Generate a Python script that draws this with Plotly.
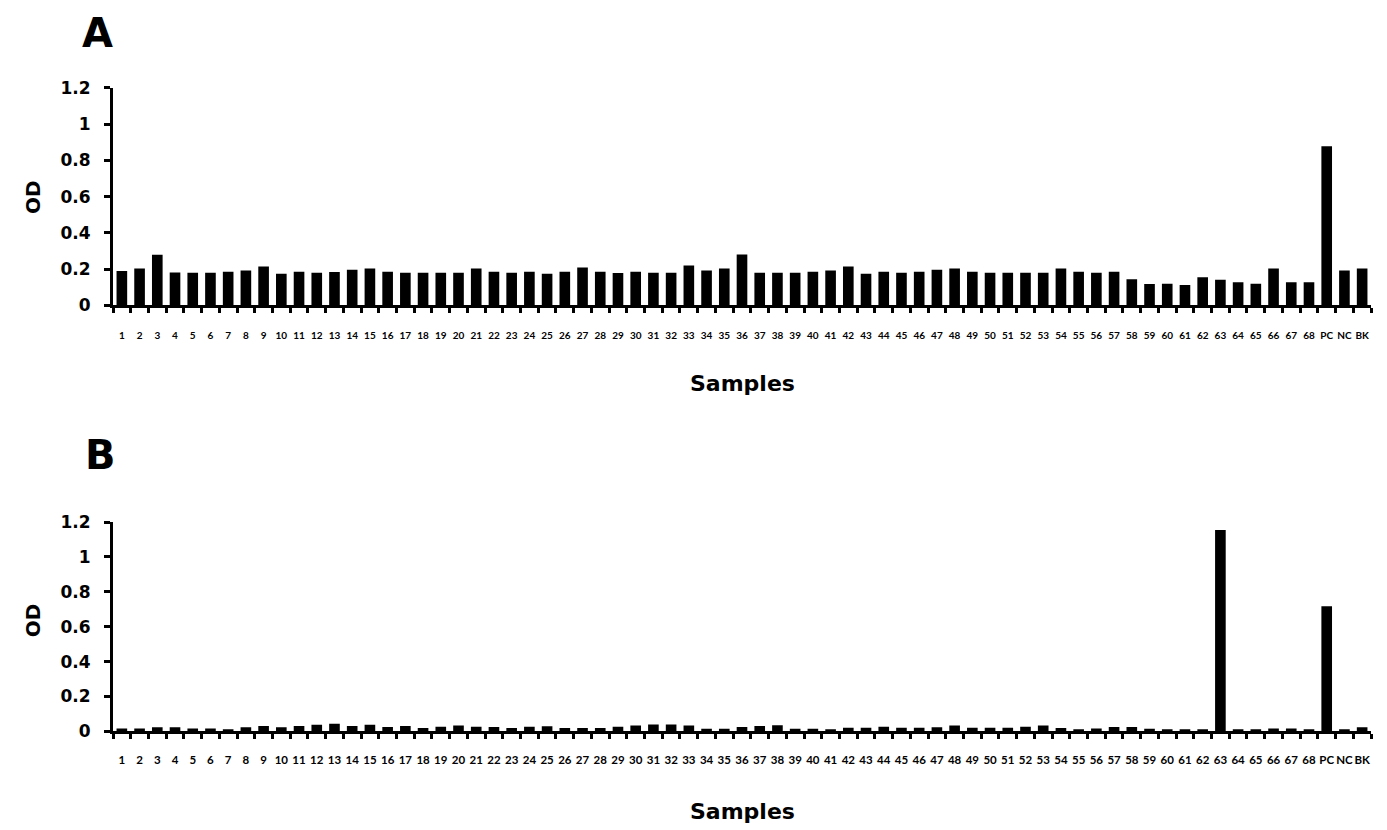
import plotly.graph_objects as go

categories = [str(i) for i in range(1, 69)] + ["PC", "NC", "BK"]

od_a = [0.19, 0.203, 0.279, 0.181, 0.18, 0.18, 0.186, 0.192, 0.214, 0.174,
        0.186, 0.18, 0.184, 0.197, 0.203, 0.186, 0.18, 0.18, 0.18, 0.18,
        0.203, 0.186, 0.18, 0.186, 0.174, 0.186, 0.209, 0.186, 0.179, 0.186,
        0.18, 0.18, 0.22, 0.192, 0.203, 0.281, 0.18, 0.18, 0.18, 0.186,
        0.192, 0.214, 0.174, 0.186, 0.18, 0.186, 0.197, 0.203, 0.186, 0.18,
        0.18, 0.18, 0.18, 0.203, 0.186, 0.18, 0.186, 0.144, 0.118, 0.12,
        0.113, 0.155, 0.142, 0.127, 0.12, 0.203, 0.127, 0.127,
        0.877, 0.192, 0.203]

od_b = [0.017, 0.017, 0.023, 0.023, 0.017, 0.017, 0.012, 0.023, 0.031, 0.023,
        0.031, 0.038, 0.044, 0.031, 0.038, 0.025, 0.031, 0.019, 0.027, 0.033,
        0.027, 0.025, 0.019, 0.027, 0.029, 0.019, 0.019, 0.019, 0.027, 0.033,
        0.04, 0.04, 0.033, 0.015, 0.015, 0.025, 0.031, 0.035, 0.015, 0.015,
        0.012, 0.021, 0.021, 0.027, 0.021, 0.021, 0.023, 0.033, 0.021, 0.021,
        0.021, 0.027, 0.033, 0.019, 0.012, 0.017, 0.025, 0.025, 0.015, 0.012,
        0.012, 0.012, 1.154, 0.012, 0.012, 0.017, 0.017, 0.012,
        0.717, 0.012, 0.023]

y_ticks = [0, 0.2, 0.4, 0.6, 0.8, 1.0, 1.2]
y_tick_text = ["0", "0.2", "0.4", "0.6", "0.8", "1", "1.2"]

W, H = 1387, 830
LABEL_FONT = "Lato"
MAIN_FONT = "DejaVu Sans"

def px_x(x):
    # figure x in pixels -> paper fraction
    return x / W

def px_y(y):
    # figure y in pixels (from top) -> paper fraction
    return 1 - y / H

fig = go.Figure()
fig.add_trace(go.Bar(x=categories, y=od_a, marker=dict(color="black", line=dict(width=0)),
                     xaxis="x", yaxis="y", showlegend=False))
fig.add_trace(go.Bar(x=categories, y=od_b, marker=dict(color="black", line=dict(width=0)),
                     xaxis="x2", yaxis="y2", showlegend=False))

def xaxis_cfg(anchor, size, standoff):
    return dict(
        domain=[px_x(105), px_x(1363)], anchor=anchor,
        type="category", tickmode="array", tickvals=categories, ticktext=categories,
        tickangle=0, tickson="boundaries", ticks="outside", ticklen=5, tickwidth=2.5,
        tickcolor="black", showline=True, linecolor="black", linewidth=3,
        showgrid=False, zeroline=False, ticklabelstandoff=standoff,
        tickfont=dict(family=LABEL_FONT, size=size, color="black", weight="bold"),
    )

def yaxis_cfg(anchor, top, bottom):
    return dict(
        domain=[px_y(bottom), px_y(top)], anchor=anchor, range=[0, 1.2],
        tickmode="array", tickvals=y_ticks, ticktext=y_tick_text,
        ticks="outside", ticklen=6, tickwidth=2.5, tickcolor="black",
        showline=True, linecolor="black", linewidth=3, showgrid=False, zeroline=False,
        ticklabelstandoff=10,
        tickfont=dict(family=MAIN_FONT, size=17, color="black", weight="bold"),
    )

fig.update_layout(
    width=W, height=H, autosize=False,
    margin=dict(l=0, r=0, t=0, b=0),
    paper_bgcolor="white", plot_bgcolor="white",
    bargap=0.4,
    xaxis=xaxis_cfg("y", 10, 19),
    yaxis=yaxis_cfg("x", 71.5, 294.5),
    xaxis2=xaxis_cfg("y2", 11.5, 16),
    yaxis2=yaxis_cfg("x2", 516.5, 731),
)

ann_font = dict(family=MAIN_FONT, color="black", weight="bold")
annotations = [
    dict(text="A", x=px_x(89), y=px_y(15), size=40),
    dict(text="B", x=px_x(92), y=px_y(447.5), size=40),
    dict(text="Samples", x=px_x(734), y=px_y(374.5), size=22),
    dict(text="Samples", x=px_x(734), y=px_y(813), size=22),
]
for a in annotations:
    fig.add_annotation(text=a["text"], x=a["x"], y=a["y"], xref="paper", yref="paper",
                       showarrow=False, xanchor="center", yanchor="middle",
                       font=dict(size=a["size"], **ann_font))
for yy in (183.5, 617):
    fig.add_annotation(text="OD", x=px_x(25), y=px_y(yy), xref="paper", yref="paper",
                       showarrow=False, textangle=-90, xanchor="center", yanchor="middle",
                       font=dict(size=20, **ann_font))

fig.write_html("out.html")
